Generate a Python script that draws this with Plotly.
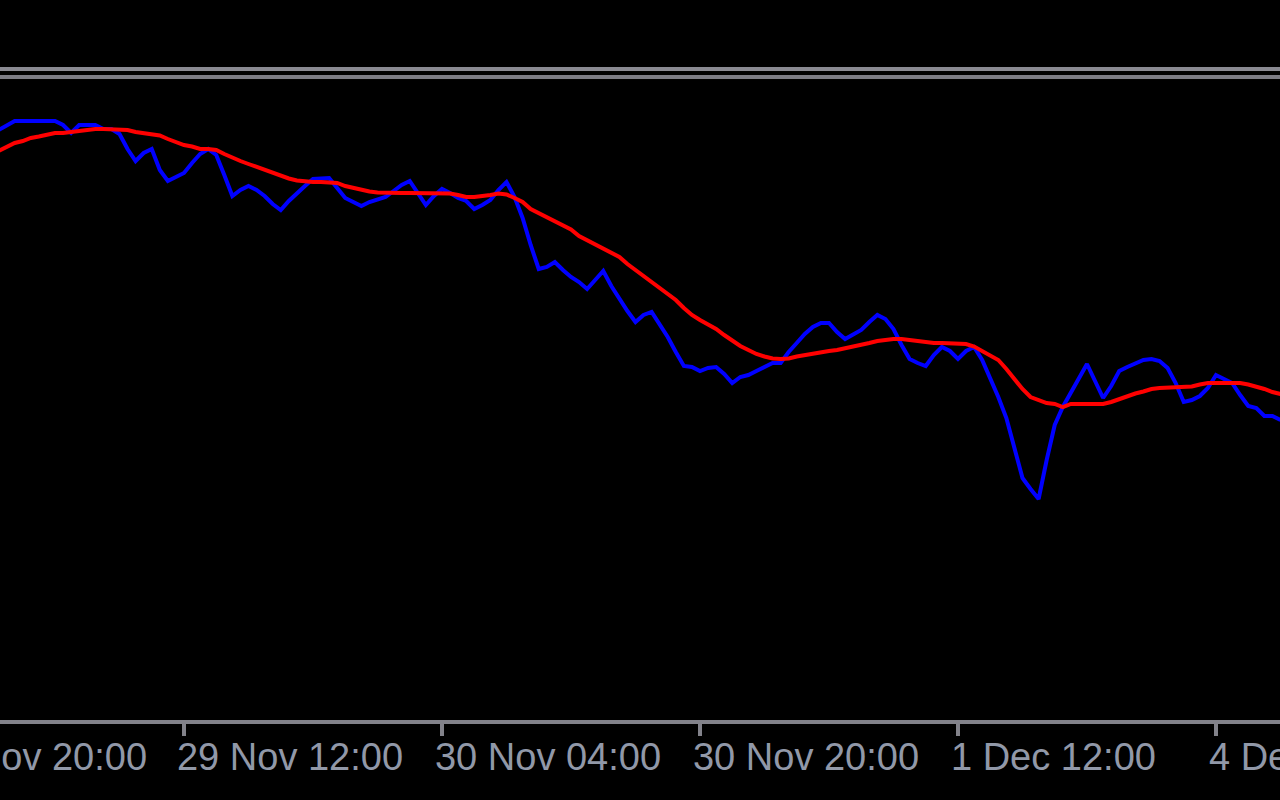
import plotly.graph_objects as go
import pandas as pd

# ---- data (M30 bars; screen-row units, larger = lower) ----
bar_times = list(pd.date_range("2017-11-29 00:30", "2017-12-01 23:30", freq="30min")) + \
            list(pd.date_range("2017-12-04 00:00", "2017-12-04 08:00", freq="30min"))

price_line = [
    130, 125, 121, 121, 121, 121, 121, 121, 125, 133,
    125, 125, 125, 129, 129, 134, 149, 161, 153, 149,
    170, 181, 177, 173, 163, 154, 149, 155, 175, 196,
    190, 186, 190, 196, 204, 210, 201, 193, 186, 179,
    178, 178, 188, 198, 202, 206, 202, 199, 197, 191,
    185, 181, 193, 205, 196, 189, 193, 198, 201, 209,
    205, 200, 190, 182, 197, 218, 245, 269, 267, 262,
    270, 277, 282, 289, 280, 271, 286, 299, 311, 322,
    315, 312, 324, 337, 352, 366, 367, 371, 368, 367,
    374, 383, 377, 375, 371, 367, 363, 363, 352, 343,
    334, 327, 323, 323, 332, 339, 335, 330, 322, 315,
    319, 329, 345, 359, 363, 366, 355, 347, 351, 359,
    351, 347, 360, 378, 397, 418, 450, 478, 489, 499,
    460, 425, 407, 393, 377, 364, 381, 398, 386, 371,
    367, 363, 360, 359, 361, 368, 383, 402, 400, 396,
    388, 375, 379, 383, 395, 406, 408, 416, 416, 420,
]

ma_line = [
    151, 147, 143, 141, 138, 136.5, 134.5, 133, 133, 132,
    130.5, 129.5, 129, 129, 129, 129, 130, 132, 133, 133.5,
    135.5, 139, 142, 145, 146.5, 149, 149, 150, 154, 158,
    161, 164, 167, 170, 173, 176, 178.5, 180.5, 181.5, 182,
    182, 182, 183, 186, 188, 190, 191.5, 192.5, 193, 193,
    193, 193, 193, 193, 193, 193.5, 193.5, 195, 197, 197,
    196.5, 195, 193.5, 194.5, 198, 202, 209, 213, 217.5, 221.5,
    226, 229.5, 236, 240, 244, 248, 252, 257, 264, 270,
    276, 281, 288, 293, 300, 308, 315, 320, 324, 329,
    335, 341, 346, 350, 354, 356.5, 358.5, 359, 358.5, 356.5,
    355, 353, 351.5, 351, 350, 348.5, 347, 345, 343, 341,
    339.5, 339, 339, 340, 342, 343, 343, 343, 343, 343,
    344, 346.5, 351, 355, 360, 369, 379, 389, 397, 399.5,
    403, 404, 407, 404, 404, 404, 404, 404, 402, 399,
    396.5, 393.5, 391.5, 389, 388, 387.5, 387.5, 387.5, 386.5, 384.5,
    383, 383, 383, 383, 383, 384.5, 386.5, 389, 392, 394,
]

tick_times = ["2017-11-28 20:00", "2017-11-29 12:00", "2017-11-30 04:00",
              "2017-11-30 20:00", "2017-12-01 12:00", "2017-12-04 04:00"]
tick_text = ["28 Nov 20:00", "29 Nov 12:00", "30 Nov 04:00",
             "30 Nov 20:00", "1 Dec 12:00", "4 Dec 04:00"]

level_lines = [69, 77]

# ---- build ----
ma_line = ma_line[:len(bar_times)]
x_idx = list(range(len(bar_times)))
half_hour = pd.Timedelta("30min")


def bar_pos(t):
    t = pd.Timestamp(t)
    if t in bar_times:
        return bar_times.index(t)
    return (t - bar_times[0]) / half_hour


tick_pos = [bar_pos(t) for t in tick_times]
x_range = [0.18, 158.94]
y_range = [720, 0]

AXIS_GREY = "#82828a"
TEXT_GREY = "#9198a8"
FONT = dict(family="Liberation Sans, Arial, sans-serif", size=38, color=TEXT_GREY)

fig = go.Figure()
fig.add_trace(go.Scatter(x=x_idx, y=price_line, mode="lines",
                         line=dict(color="#0000ff", width=4), hoverinfo="skip"))
fig.add_trace(go.Scatter(x=x_idx, y=ma_line, mode="lines",
                         line=dict(color="#ff0000", width=4), hoverinfo="skip"))

for i, lv in enumerate(level_lines):
    fig.add_shape(type="line", xref="paper", x0=0, x1=1, yref="y", y0=lv, y1=lv,
                  line=dict(color="#8a8a92" if i == 0 else "#7c7c84", width=4))

in_vals = [p for p in tick_pos if x_range[0] <= p <= x_range[1]]
in_text = [tx for p, tx in zip(tick_pos, tick_text) if x_range[0] <= p <= x_range[1]]

for p, tx in zip(tick_pos, tick_text):
    if not (x_range[0] <= p <= x_range[1]):
        fig.add_annotation(xref="paper", yref="paper",
                           x=(p - x_range[0]) / (x_range[1] - x_range[0]), y=0,
                           xanchor="left", yanchor="top", xshift=-7, yshift=-14,
                           text=tx, showarrow=False, font=FONT)

fig.update_layout(
    width=1280, height=800,
    margin=dict(l=0, r=0, t=0, b=80, pad=0),
    paper_bgcolor="#000000", plot_bgcolor="#000000",
    showlegend=False,
    xaxis=dict(range=x_range, showgrid=False, zeroline=False,
               showline=True, linecolor=AXIS_GREY, linewidth=4,
               ticks="outside", ticklen=12, tickwidth=4, tickcolor=AXIS_GREY,
               tickvals=in_vals, ticktext=in_text,
               ticklabelposition="outside right", ticklabelshift=-11,
               ticklabeloverflow="allow", tickfont=FONT,
               automargin=False, fixedrange=True),
    yaxis=dict(range=y_range, visible=False, fixedrange=True),
)

fig.write_html("out.html", config={"displayModeBar": False},
               post_script="document.body.style.margin='0';"
                           "document.body.style.overflow='hidden';"
                           "document.body.style.background='#000';")
